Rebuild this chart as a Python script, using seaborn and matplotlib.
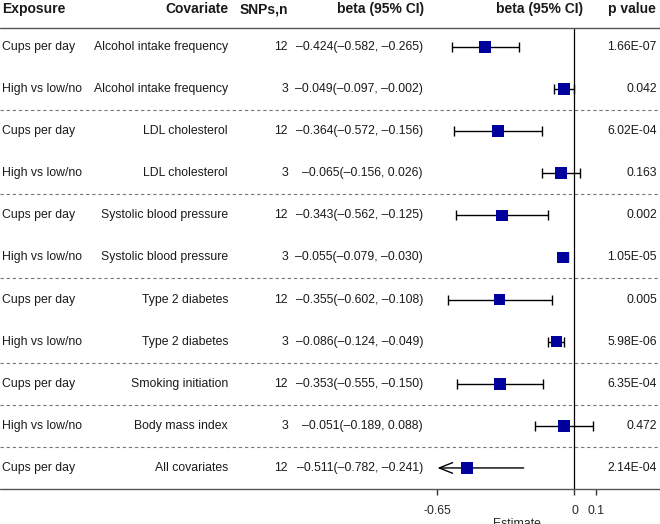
import matplotlib
matplotlib.use("Agg")
import matplotlib.pyplot as plt
import matplotlib.transforms as mtransforms
import pandas as pd
import seaborn as sns

exposure = ["Cups per day", "High vs low/no", "Cups per day", "High vs low/no",
            "Cups per day", "High vs low/no", "Cups per day", "High vs low/no",
            "Cups per day", "High vs low/no", "Cups per day"]
covariate = ["Alcohol intake frequency", "Alcohol intake frequency",
             "LDL cholesterol", "LDL cholesterol",
             "Systolic blood pressure", "Systolic blood pressure",
             "Type 2 diabetes", "Type 2 diabetes",
             "Smoking initiation", "Body mass index", "All covariates"]
snps = [12, 3, 12, 3, 12, 3, 12, 3, 12, 3, 12]
beta = [-0.424, -0.049, -0.364, -0.065, -0.343, -0.055, -0.355, -0.086, -0.353, -0.051, -0.511]
ci_lo = [-0.582, -0.097, -0.572, -0.156, -0.562, -0.079, -0.602, -0.124, -0.555, -0.189, -0.782]
ci_hi = [-0.265, -0.002, -0.156, 0.026, -0.125, -0.030, -0.108, -0.049, -0.150, 0.088, -0.241]
pval = ["1.66E-07", "0.042", "6.02E-04", "0.163", "0.002", "1.05E-05",
        "0.005", "5.98E-06", "6.35E-04", "0.472", "2.14E-04"]
xticks = [-0.65, 0, 0.1]
dashed_after = [1, 3, 5, 7, 8, 9]

df = pd.DataFrame({"exposure": exposure, "covariate": covariate, "snps": snps,
                   "beta": beta, "lo": ci_lo, "hi": ci_hi, "p": pval})
df["row"] = range(len(df))

sns.set_style("white")
plt.rcParams["font.family"] = ["Liberation Sans", "DejaVu Sans"]

W, H = 660, 524
fig = plt.figure(figsize=(W / 100, H / 100), dpi=100)
# forest panel: x from -0.65 to 0.1, rows between top rule and bottom axis
ax = fig.add_axes([437 / W, 35 / H, 159 / W, 461 / H])
xmin, xmax = -0.65, 0.1
nrow = len(df)

# error bars (clip to axis range, arrow when beyond)
inside = df[df["lo"] >= xmin]
ax.errorbar(inside["beta"], inside["row"],
            xerr=[inside["beta"] - inside["lo"], inside["hi"] - inside["beta"]],
            fmt="none", ecolor="black", elinewidth=1, capsize=3.3, capthick=1, zorder=2)
for _, r in df[df["lo"] < xmin].iterrows():
    ax.annotate("", xy=(xmin, r["row"]), xytext=(r["hi"], r["row"]),
                arrowprops=dict(arrowstyle="->,head_length=0.8,head_width=0.32",
                                color="black", lw=1, mutation_scale=12,
                                shrinkA=0, shrinkB=0), zorder=2)

sns.scatterplot(data=df, x="beta", y="row", marker="s", s=70, color="#00009c",
                edgecolor="none", ax=ax, zorder=3)
ax.axvline(0, color="black", lw=0.9, zorder=1)

ax.set_xlim(xmin - 0.002, xmax + 0.002)
ax.set_ylim(nrow - 0.5, -0.45)
ax.set_xticks(xticks)
ax.set_xticklabels(["-0.65", "0", "0.1"], fontsize=8.8)
ax.tick_params(axis="x", direction="out", length=4.5, width=1, color="#333333",
               bottom=True, pad=7)
ax.set_yticks([])
ax.set_ylabel("")
# axis title sits at the very bottom edge, mostly cropped as in the source figure
ax.set_xlabel("Estimate", fontsize=8.8, labelpad=0.5)
for s in ax.spines.values():
    s.set_visible(False)
ax.set_facecolor("none")

trans = mtransforms.blended_transform_factory(fig.transFigure, ax.transData)

# rules
ax.plot([0, 1], [-0.45, -0.45], transform=trans, color="#555555", lw=1, clip_on=False)
ax.plot([0, 1], [nrow - 0.5, nrow - 0.5], transform=trans, color="#555555", lw=1, clip_on=False)
for i in dashed_after:
    ax.plot([0, 1], [i + 0.5, i + 0.5], transform=trans, color="#777777", lw=0.8,
            ls=(0, (3, 2.5)), clip_on=False, zorder=0)

# header
hy = -0.9
hkw = dict(transform=trans, fontsize=10, fontweight="bold", va="center", color="#1a1a1a")
ax.text(2 / W, hy, "Exposure", ha="left", **hkw)
ax.text(228 / W, hy, "Covariate", ha="right", **hkw)
ax.text(288 / W, hy, "SNPs,n", ha="right", **hkw)
ax.text(424 / W, hy, "beta (95% CI)", ha="right", **hkw)
ax.text(583 / W, hy, "beta (95% CI)", ha="right", **hkw)
ax.text(656 / W, hy, "p value", ha="right", **hkw)

# table text
tkw = dict(transform=trans, fontsize=8.8, va="center", color="#1a1a1a")
for _, r in df.iterrows():
    y = r["row"]
    ax.text(2 / W, y, r["exposure"], ha="left", **tkw)
    ax.text(228 / W, y, r["covariate"], ha="right", **tkw)
    ax.text(288 / W, y, str(r["snps"]), ha="right", **tkw)
    est = "{:.3f}({:.3f}, {:.3f})".format(r["beta"], r["lo"], r["hi"]).replace("-", "\u2013")
    ax.text(423 / W, y, est, ha="right", **tkw)
    ax.text(657 / W, y, r["p"], ha="right", **tkw)

fig.savefig("out.png", dpi=100)
